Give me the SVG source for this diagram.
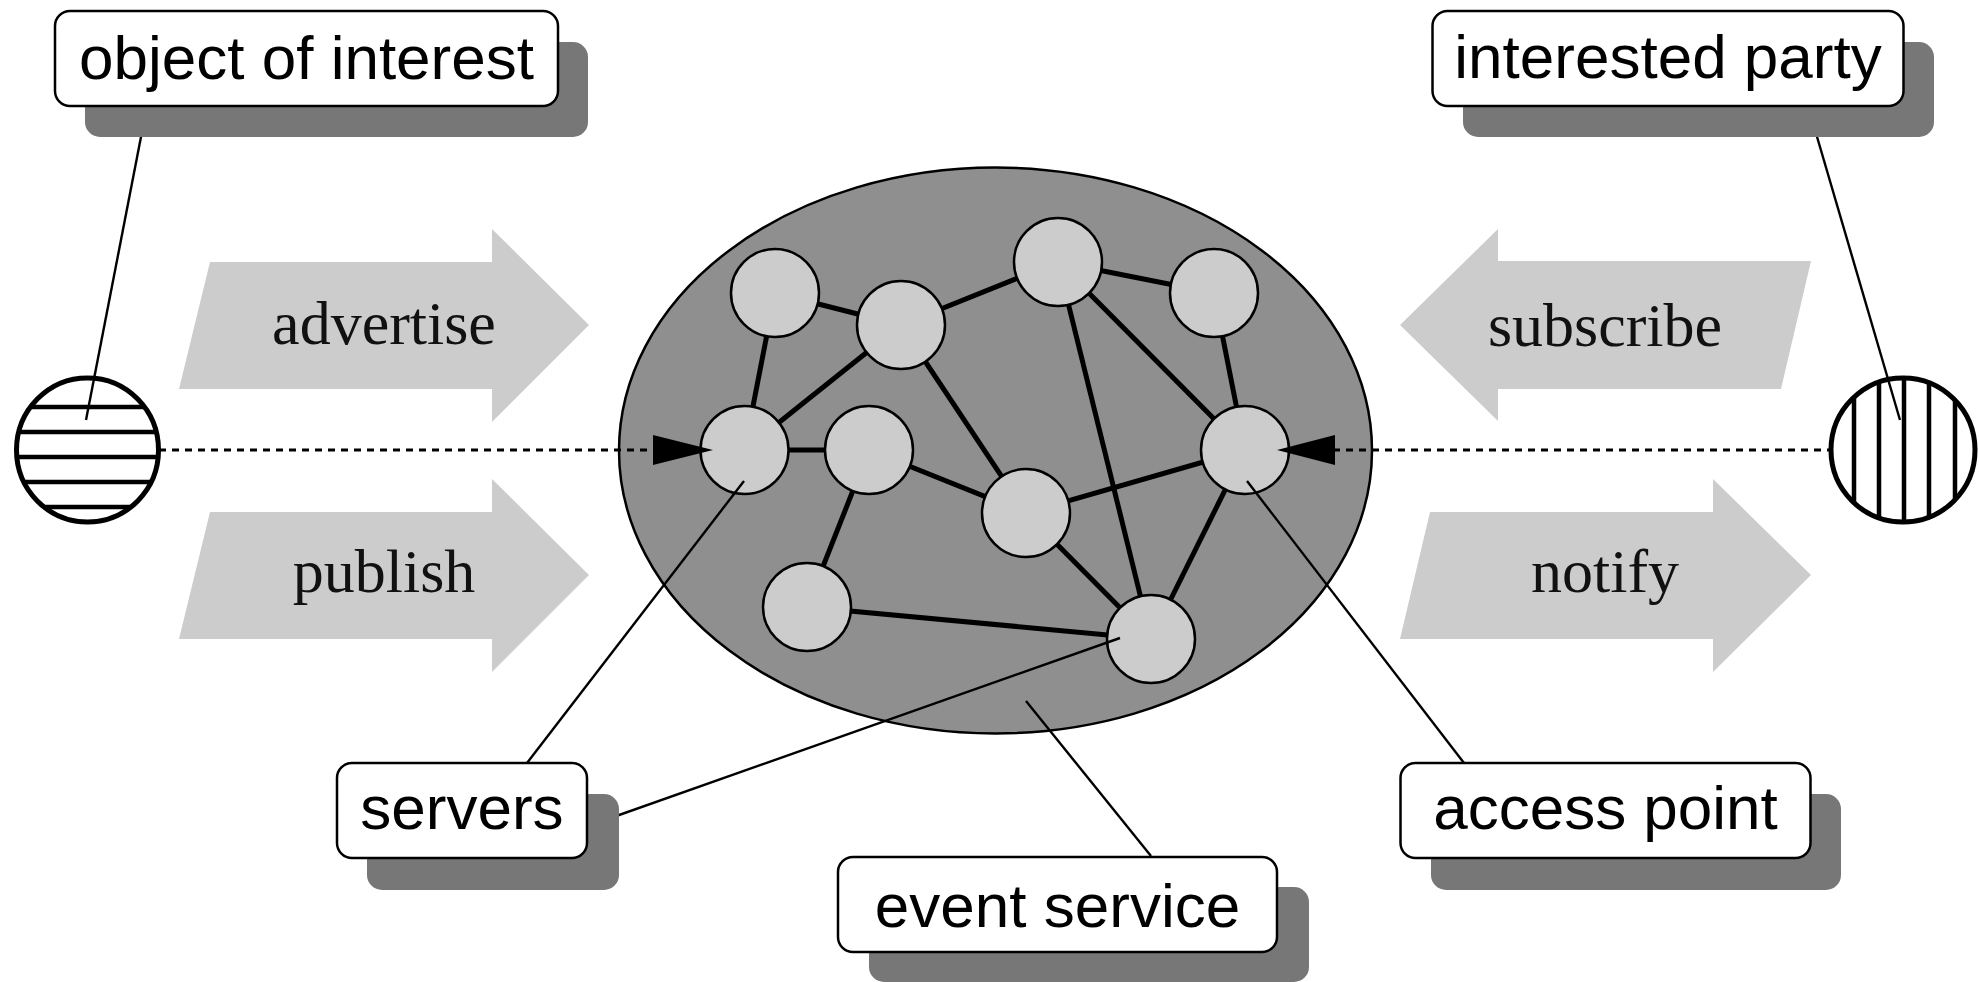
<svg xmlns="http://www.w3.org/2000/svg" width="1979" height="982" viewBox="0 0 1979 982">
<style>
.flow{fill:#cccccc;stroke:none}
.flowtxt{font-family:"Liberation Serif","Times New Roman",serif;font-size:62px;fill:#111;text-anchor:middle}
.shadow{fill:#777777;stroke:none}
.box{fill:#ffffff;stroke:#000;stroke-width:2.5}
.lbl{font-family:"Liberation Sans",Arial,sans-serif;font-size:62px;fill:#000;text-anchor:middle}
.edge{stroke:#000;stroke-width:5;fill:none}
.node{fill:#cccccc;stroke:#000;stroke-width:2.5}
.leader{stroke:#000;stroke-width:2.4;fill:none}
.dash{stroke:#000;stroke-width:3;stroke-dasharray:7 6;fill:none}
.hatch{stroke:#000;stroke-width:4.5}
.ring{fill:none;stroke:#000;stroke-width:5}
</style>
<defs>
<clipPath id="clipL"><ellipse cx="87.5" cy="450" rx="71" ry="72"/></clipPath>
<clipPath id="clipR"><ellipse cx="1903" cy="450" rx="72" ry="72"/></clipPath>
</defs>

<g id="flow-arrows">
<g id="advertise"><polygon class="flow" points="179,389 210,262 492,262 492,229 589,325 492,422 492,389"/><text class="flowtxt" x="384" y="344">advertise</text></g>
<g id="publish"><polygon class="flow" points="179,639 210,512 492,512 492,479 589,575 492,672 492,639"/><text class="flowtxt" x="384" y="592">publish</text></g>
<g id="subscribe"><polygon class="flow" points="1811,261 1781,389 1498,389 1498,421 1400,325 1498,229 1498,261"/><text class="flowtxt" x="1605" y="346">subscribe</text></g>
<g id="notify"><polygon class="flow" points="1400,639 1430,512 1713,512 1713,479 1811,575 1713,672 1713,639"/><text class="flowtxt" x="1605" y="592">notify</text></g>
</g>

<g id="event-service-cloud">
<ellipse cx="995.5" cy="450.5" rx="376.5" ry="283" fill="#8f8f8f" stroke="#000" stroke-width="2.5"/>
</g>

<g id="connectors">
<g id="network-edges">
<line class="edge" x1="775" y1="293" x2="901" y2="325"/>
<line class="edge" x1="775" y1="293" x2="744.5" y2="450"/>
<line class="edge" x1="901" y1="325" x2="744.5" y2="450"/>
<line class="edge" x1="901" y1="325" x2="1058" y2="262"/>
<line class="edge" x1="901" y1="325" x2="1026" y2="513"/>
<line class="edge" x1="1058" y1="262" x2="1214" y2="293"/>
<line class="edge" x1="1058" y1="262" x2="1245" y2="450"/>
<line class="edge" x1="1058" y1="262" x2="1151" y2="639"/>
<line class="edge" x1="1214" y1="293" x2="1245" y2="450"/>
<line class="edge" x1="744.5" y1="450" x2="869" y2="450"/>
<line class="edge" x1="869" y1="450" x2="1026" y2="513"/>
<line class="edge" x1="869" y1="450" x2="807" y2="607"/>
<line class="edge" x1="1026" y1="513" x2="1245" y2="450"/>
<line class="edge" x1="1026" y1="513" x2="1151" y2="639"/>
<line class="edge" x1="1245" y1="450" x2="1151" y2="639"/>
<line class="edge" x1="807" y1="607" x2="1151" y2="639"/>
</g>
</g>

<g id="servers-nodes">
<circle id="n1" class="node" cx="775" cy="293" r="44"/>
<circle id="n2" class="node" cx="901" cy="325" r="44"/>
<circle id="n3" class="node" cx="1058" cy="262" r="44"/>
<circle id="n4" class="node" cx="1214" cy="293" r="44"/>
<circle id="n5" class="node" cx="744.5" cy="450" r="44"/>
<circle id="n6" class="node" cx="869" cy="450" r="44"/>
<circle id="n7" class="node" cx="1026" cy="513" r="44"/>
<circle id="n8" class="node" cx="1245" cy="450" r="44"/>
<circle id="n9" class="node" cx="807" cy="607" r="44"/>
<circle id="n10" class="node" cx="1151" cy="639" r="44"/>
</g>

<g id="object-of-interest">
<g clip-path="url(#clipL)">
<ellipse cx="87.5" cy="450" rx="71" ry="72" fill="#fff"/>
<line class="hatch" x1="0" y1="407" x2="170" y2="407"/>
<line class="hatch" x1="0" y1="432" x2="170" y2="432"/>
<line class="hatch" x1="0" y1="457" x2="170" y2="457"/>
<line class="hatch" x1="0" y1="482" x2="170" y2="482"/>
<line class="hatch" x1="0" y1="507" x2="170" y2="507"/>
</g>
<ellipse class="ring" cx="87.5" cy="450" rx="71" ry="72"/>
</g>

<g id="interested-party">
<g clip-path="url(#clipR)">
<ellipse cx="1903" cy="450" rx="72" ry="72" fill="#fff"/>
<line class="hatch" x1="1854" y1="370" x2="1854" y2="530"/>
<line class="hatch" x1="1879" y1="370" x2="1879" y2="530"/>
<line class="hatch" x1="1904" y1="370" x2="1904" y2="530"/>
<line class="hatch" x1="1929" y1="370" x2="1929" y2="530"/>
<line class="hatch" x1="1955" y1="370" x2="1955" y2="530"/>
</g>
<ellipse class="ring" cx="1903" cy="450" rx="72" ry="72"/>
</g>

<g id="leaders-and-links">
<line class="leader" x1="147" y1="106" x2="86" y2="420"/>
<line class="leader" x1="1808" y1="106" x2="1900" y2="420"/>
<line class="leader" x1="527" y1="763" x2="744" y2="481"/>
<line class="leader" x1="588" y1="826" x2="1120" y2="638"/>
<line class="leader" x1="1151" y1="856" x2="1026" y2="701"/>
<line class="leader" x1="1464" y1="763" x2="1247" y2="481"/>
<line class="dash" x1="159" y1="450" x2="655" y2="450"/>
<line class="dash" x1="1333" y1="450" x2="1831" y2="450"/>
<polygon points="653,435 653,465 713,450" fill="#000"/>
<polygon points="1335,435 1335,465 1277,450" fill="#000"/>
</g>

<g id="label-object-of-interest">
<rect class="shadow" x="85" y="42" width="503" height="95" rx="15"/>
<rect class="box" x="55" y="11" width="503" height="95" rx="15"/>
<text class="lbl" x="306.5" y="79">object of interest</text>
</g>

<g id="label-interested-party">
<rect class="shadow" x="1463" y="42" width="471" height="95" rx="15"/>
<rect class="box" x="1432.5" y="11" width="471" height="95" rx="15"/>
<text class="lbl" x="1668" y="78">interested party</text>
</g>

<g id="label-servers">
<rect class="shadow" x="367" y="794" width="252" height="96" rx="15"/>
<rect class="box" x="337" y="763" width="250" height="95" rx="15"/>
<text class="lbl" x="462" y="829">servers</text>
</g>

<g id="label-access-point">
<rect class="shadow" x="1431" y="794" width="410" height="96" rx="15"/>
<rect class="box" x="1400.5" y="763" width="410" height="95" rx="15"/>
<text class="lbl" x="1605.5" y="829">access point</text>
</g>

<g id="label-event-service">
<rect class="shadow" x="869" y="887" width="440" height="95" rx="15"/>
<rect class="box" x="838" y="857" width="439" height="95" rx="15"/>
<text class="lbl" x="1057.5" y="927">event service</text>
</g>
</svg>
